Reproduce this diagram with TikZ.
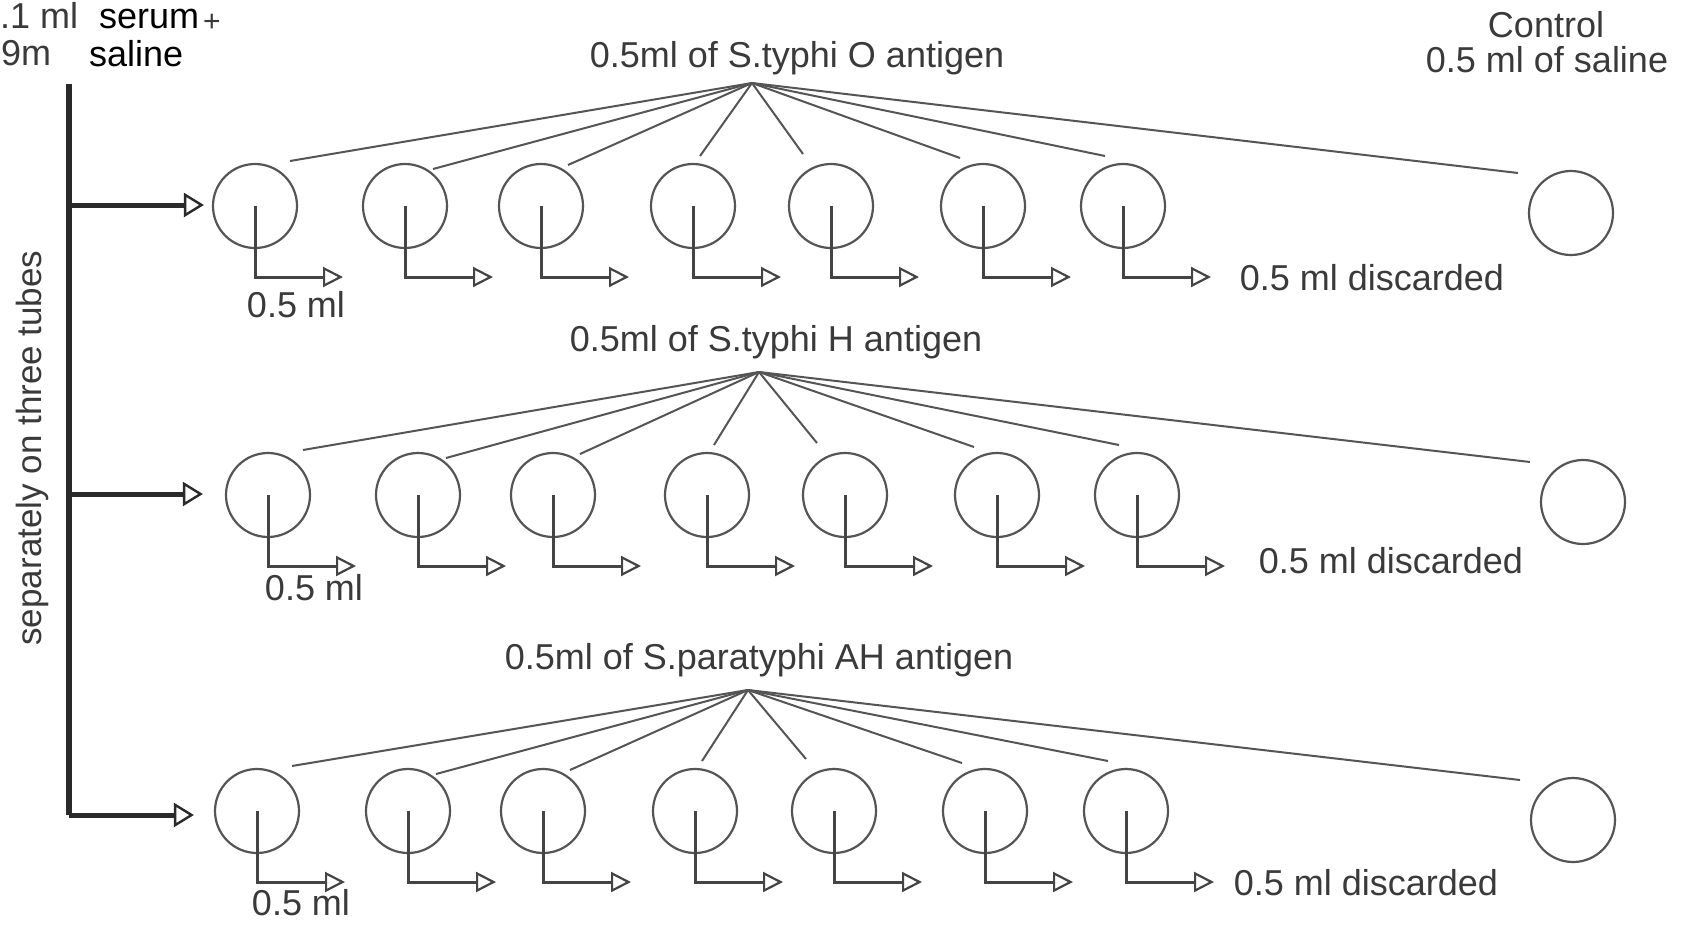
\documentclass[tikz,border=0pt]{standalone}
\usepackage{fontspec}
\setmainfont{Liberation Sans}
\usetikzlibrary{arrows.meta}
\definecolor{txt}{HTML}{3A3A3A}
\definecolor{ln}{HTML}{555555}
\definecolor{st}{HTML}{444444}
\definecolor{dk}{HTML}{2A2A2A}
\newcommand\mkrow[5]{%
  % #1 row id, #2 y, #3 xs, #4 control position, #5 apex
  \coordinate (a#1) at (#5);
  \foreach \xx [count=\i] in {#3} { \node[tube] (r#1c\i) at (\xx,#2) {}; }
  \node[tube] (r#1k) at (#4) {};
  \foreach \dx/\dy [count=\i] in {35/-45,28/-37,27/-41,7/-50,-28/-52,-23/-48,-18/-50}
    { \draw[fan] (a#1) -- ([shift={(\dx,\dy)}]r#1c\i.center); }
  \draw[fan] (a#1) -- ([shift={(-53,-40)}]r#1k.center);
  \foreach \i in {1,...,7} { \draw[stem] (r#1c\i.center) -- ++(0,71) -- ++(88,0); }
}
\begin{document}
\begin{tikzpicture}[x=1pt,y=-1pt,
  tube/.style={circle,draw=ln,line width=2.2pt,minimum size=84pt,inner sep=0pt},
  fan/.style={draw=ln,line width=2pt},
  stem/.style={draw=st,line width=3pt,-{Triangle[open,length=20pt,width=20pt,line width=2.2pt]}},
  feed/.style={draw=dk,line width=5pt,-{Triangle[open,length=20pt,width=24pt,line width=2.4pt]}},
  lbl/.style={text=txt,inner sep=0pt,font=\fontsize{36}{40}\selectfont},
  blk/.style={text=black,inner sep=0pt,font=\fontsize{36}{40}\selectfont},
]
\useasboundingbox (0,0) rectangle (1681,924);
\fill[white] (0,0) rectangle (1681,924);

% rows of tubes
\mkrow{1}{206}{255,405,541,693,831,983,1123}{1571,213}{752,83}
\mkrow{2}{495}{268,418,553,707,845,997,1137}{1583,502}{759,372}
\mkrow{3}{811}{257,408,543,695,834,985,1126}{1573,820}{748,690}

% trunk and feeds
\coordinate (ttop) at (69,84);
\coordinate (t1) at (69,205);
\coordinate (t2) at (69,494);
\coordinate (t3) at (69,815);
\draw[draw=dk,line width=6pt] (ttop) -- (t3);
\draw[feed] (t1) -- ([xshift=-8pt]t1 -| r1c1.west);
\draw[feed] (t2) -- ([xshift=-22pt]t2 -| r2c1.west);
\draw[feed] (t3) -- ([xshift=-20pt]t3 -| r3c1.west);

% texts
\node[lbl,anchor=base west] (t01) at (0,28) {.1 ml};
\node[lbl,anchor=base west] (t09) at (1,65) {9m};
\node[blk,anchor=base west,text height=19pt] (tser) at (99,28) {serum};
\node[text=txt,inner sep=0pt,font=\fontsize{30}{34}\selectfont,anchor=base west] (tplus) at (203,31) {+};
\node[blk,anchor=base west] (tsal) at (89,66) {saline};
\node[lbl,rotate=90,font=\fontsize{35}{38}\selectfont] (tsep) at (32,448) {separately on three tubes};

\node[lbl,anchor=base] (h1) at (797,67) {0.5ml of S.typhi O antigen};
\node[lbl,anchor=base] (h2) at (776,351) {0.5ml of S.typhi H antigen};
\node[lbl,anchor=base] (h3) at (759,669) {0.5ml of S.paratyphi AH antigen};

\node[lbl,anchor=base] (ctl1) at (1546,37) {Control};
\node[lbl,anchor=base] (ctl2) at (1547,72) {0.5 ml of saline};

\node[lbl,anchor=base] (d1) at (1372,290) {0.5 ml discarded};
\node[lbl,anchor=base] (d2) at (1391,573) {0.5 ml discarded};
\node[lbl,anchor=base] (d3) at (1366,895) {0.5 ml discarded};

\node[lbl,anchor=base] (m1) at (296,317) {0.5 ml};
\node[lbl,anchor=base] (m2) at (314,600) {0.5 ml};
\node[lbl,anchor=base,text depth=0pt] (m3) at (301,915) {0.5 ml};
\end{tikzpicture}
\end{document}
